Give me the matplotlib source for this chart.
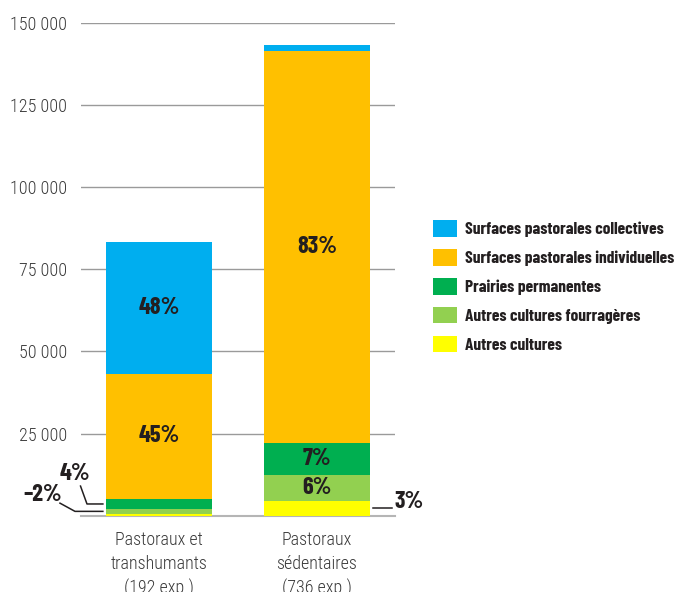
import matplotlib
matplotlib.use("Agg")
import matplotlib.pyplot as plt
import numpy as np

# ── Data ─────────────────────────────────────────────────────────────────────
groups = ["Pastoraux et\ntranshumants\n(192 exp.)", "Pastoraux\nsédentaires\n(736 exp.)"]
series = ["Autres cultures", "Autres cultures fourragères", "Prairies permanentes",
          "Surfaces pastorales individuelles", "Surfaces pastorales collectives"]
colors = ["#FFFF00", "#92D050", "#00AF50", "#FFC000", "#00AEEF"]

# hectares, bottom to top
autres_cultures = [600, 4400]
fourrageres     = [1400, 8100]
prairies        = [3100, 9600]
individuelles   = [38100, 119300]
collectives     = [40200, 1800]
values = [autres_cultures, fourrageres, prairies, individuelles, collectives]

# share labels drawn inside the segments: (group, series index, text)
inner_labels = [(0, 3, "45%"), (0, 4, "48%"), (1, 1, "6%"), (1, 2, "7%"), (1, 3, "83%")]

yticks = [25000, 50000, 75000, 100000, 125000, 150000]

BOLD = ["Barlow Condensed", "DejaVu Sans"]
LIGHT = ["Roboto Condensed", "DejaVu Sans"]
DARK = "#231F20"
GREY = "#3a3a3a"
plt.rcParams["font.family"] = LIGHT

fig = plt.figure(figsize=(6.76, 5.92), dpi=100)
ax = fig.add_axes([0.1198, 0.129, 0.4645, 0.832])

x = np.arange(len(groups))
width = 0.671
bottoms = np.zeros(len(groups))
mids = []
bars = []
for vals, col, name in zip(values, colors, series):
    vals = np.array(vals, dtype=float)
    b = ax.bar(x, vals, width, bottom=bottoms, color=col, label=name, zorder=3)
    bars.append(b)
    mids.append(bottoms + vals / 2)
    bottoms = bottoms + vals

lbl = dict(fontsize=17.5, fontweight="bold", color=DARK, family=BOLD)
for g, s, txt in inner_labels:
    ax.text(x[g], mids[s][g], txt, ha="center", va="center", zorder=4, **lbl)

# small shares with leader lines
left_edge = x[0] - width / 2
ax.plot([left_edge - 0.02, -0.456, -0.497], [mids[2][0], mids[2][0], 9000],
        color=DARK, lw=1.1, clip_on=False, zorder=4)
ax.text(-0.53, 10800, "4%", ha="center", va="baseline", clip_on=False, **lbl)
ax.plot([left_edge - 0.02, -0.532, -0.627], [mids[1][0], mids[1][0], 3800],
        color=DARK, lw=1.1, clip_on=False, zorder=4)
ax.text(-0.612, 4400, "–2%", ha="right", va="baseline", clip_on=False, **lbl)
right_edge = x[1] + width / 2
ax.plot([right_edge + 0.02, 1.475], [mids[0][1], mids[0][1]],
        color=DARK, lw=1.1, clip_on=False, zorder=4)
ax.text(1.494, mids[0][1], "3%", ha="left", va="baseline", clip_on=False, **lbl)

ax.set_xlim(-0.494, 1.494)
ax.set_ylim(0, 150000)
ax.set_yticks(yticks)
ax.set_yticklabels([f"{v:,}".replace(",", " ") for v in yticks], fontweight="light")
ax.set_xticks(x)
ax.set_xticklabels(groups, linespacing=1.4, fontweight="light")
ax.tick_params(axis="both", length=0, labelsize=13, colors=GREY)
ax.tick_params(axis="y", pad=10)
ax.tick_params(axis="x", pad=11)
ax.grid(axis="y", color="#9a9a9a", lw=1, zorder=0)
for side in ["top", "right", "left"]:
    ax.spines[side].set_visible(False)
ax.spines["bottom"].set_color("#b5b5b5")
ax.spines["bottom"].set_linewidth(1.5)

handles = [b[0] for b in bars][::-1]
labels = series[::-1]
leg = fig.legend(handles, labels, loc="upper left", bbox_to_anchor=(0.641, 0.628),
                 frameon=False, prop=dict(family=BOLD, weight="bold", size=12.5),
                 handlelength=1.35, handleheight=1.1, handletextpad=0.45,
                 labelspacing=0.67, borderpad=0, borderaxespad=0)
for t in leg.get_texts():
    t.set_color(DARK)

fig.savefig("out.png", dpi=100)
